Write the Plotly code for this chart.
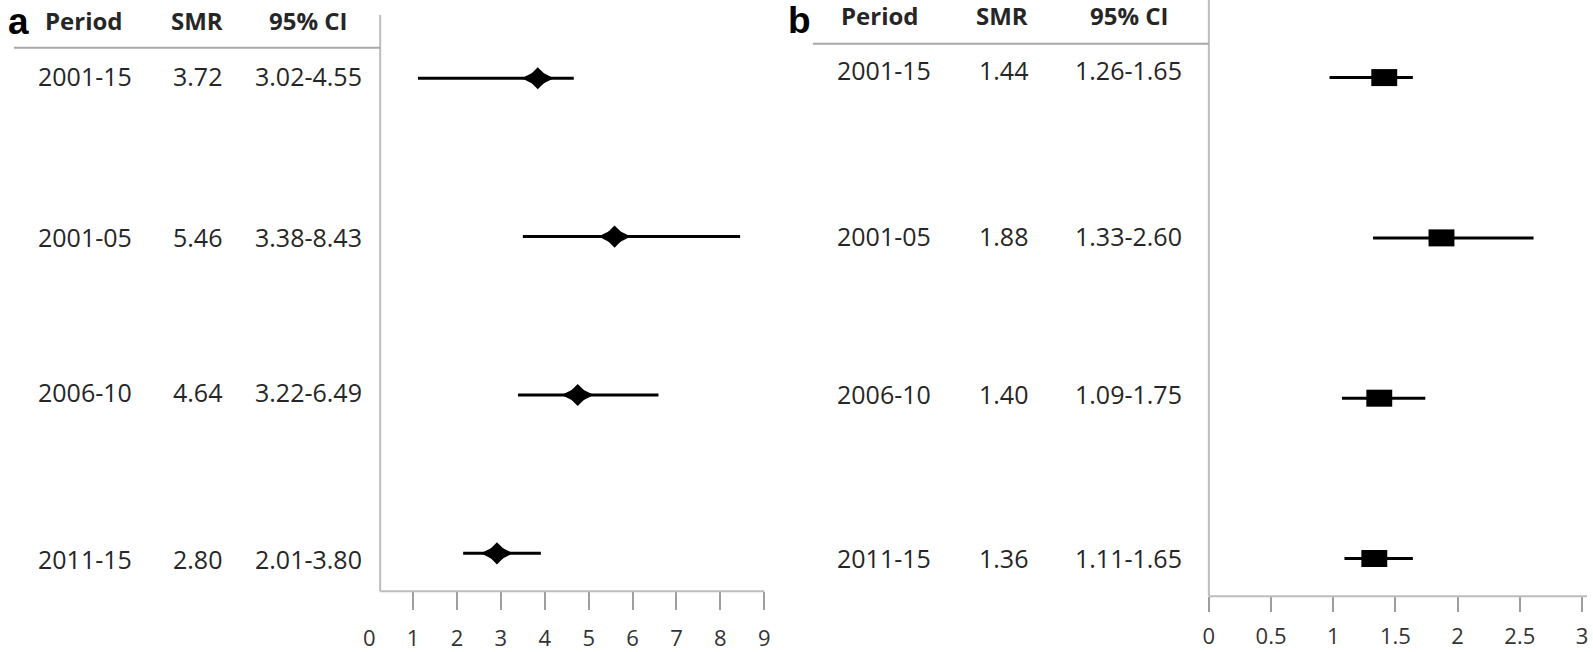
import plotly.graph_objects as go

# ---- data ----
periods = ["2001-15", "2001-05", "2006-10", "2011-15"]
rows = [4, 3, 2, 1]

smr_a_text = ["3.72", "5.46", "4.64", "2.80"]
ci_a_text = ["3.02-4.55", "3.38-8.43", "3.22-6.49", "2.01-3.80"]
smr_b_text = ["1.44", "1.88", "1.40", "1.36"]
ci_b_text = ["1.26-1.65", "1.33-2.60", "1.09-1.75", "1.11-1.65"]

# plotted positions as drawn in the picture
point_a = [3.84, 5.59, 4.75, 2.91]
low_a = [1.11, 3.50, 3.39, 2.14]
high_a = [4.66, 8.45, 6.59, 3.91]

point_b = [1.41, 1.87, 1.37, 1.33]
low_b = [0.97, 1.32, 1.07, 1.09]
high_b = [1.64, 2.61, 1.74, 1.64]

ticks_a = [0, 1, 2, 3, 4, 5, 6, 7, 8, 9]
ticks_b = [0, 0.5, 1, 1.5, 2, 2.5, 3]
tick_text_b = ["0", "0.5", "1", "1.5", "2", "2.5", "3"]

W, H = 1593, 652
px = lambda v: v / W
py = lambda v: 1 - v / H

TXT = "#262626"
FONT = "Open Sans"
AXC = "#bdbdbd"
TICKC = "#9e9e9e"

fig = go.Figure()

def ci_trace(point, low, high, xa, ya):
    return go.Scatter(
        x=point, y=rows, xaxis=xa, yaxis=ya, mode="markers",
        marker=dict(size=1, color="black", opacity=0),
        error_x=dict(type="data", symmetric=False,
                     array=[h - p for h, p in zip(high, point)],
                     arrayminus=[p - l for p, l in zip(point, low)],
                     width=0, thickness=3, color="black"),
        showlegend=False, hoverinfo="skip")

# panel a
fig.add_trace(ci_trace(point_a, low_a, high_a, "x", "y"))
fig.add_trace(go.Scatter(x=point_a, y=rows, xaxis="x", yaxis="y", mode="markers",
                         marker=dict(symbol="diamond-wide", size=23, color="black",
                                     line=dict(width=0)),
                         showlegend=False, hoverinfo="skip"))
fig.add_trace(go.Scatter(x=point_a, y=rows, xaxis="x", yaxis="y", mode="markers",
                         marker=dict(symbol="diamond", size=17, color="black",
                                     line=dict(width=0)),
                         showlegend=False, hoverinfo="skip"))
# panel b
fig.add_trace(ci_trace(point_b, low_b, high_b, "x2", "y2"))
fig.add_trace(go.Scatter(x=point_b, y=rows, xaxis="x2", yaxis="y2", mode="markers",
                         marker=dict(symbol="line-ew", size=18.5, color="black",
                                     line=dict(width=17, color="black")),
                         showlegend=False, hoverinfo="skip"))

axis_common = dict(showgrid=False, zeroline=False, showline=False, fixedrange=True)

fig.update_layout(
    width=W, height=H, margin=dict(l=0, r=0, t=0, b=0),
    paper_bgcolor="white", plot_bgcolor="white",
    font=dict(family=FONT, color=TXT),
    xaxis=dict(domain=[px(366), px(764)], range=[0, 9], anchor="y",
               tickmode="array", tickvals=ticks_a,
               ticks="outside", ticklen=18, tickcolor="rgba(0,0,0,0)",
               ticklabelstandoff=9,
               tickfont=dict(size=22, color="#333333", family=FONT),
               minor=dict(tickvals=ticks_a[1:], ticks="outside", ticklen=18,
                          tickwidth=2, tickcolor=TICKC),
               **axis_common),
    yaxis=dict(domain=[py(595), py(15)], range=[0.76, 4.40], anchor="x",
               showticklabels=False, ticks="", **axis_common),
    xaxis2=dict(domain=[px(1212), px(1588)], range=[0, 3], anchor="y2",
                tickmode="array", tickvals=ticks_b, ticktext=tick_text_b,
                ticks="outside", ticklen=15, tickwidth=2, tickcolor=TICKC,
                ticklabelstandoff=5,
                tickfont=dict(size=22, color="#333333", family=FONT),
                **axis_common),
    yaxis2=dict(domain=[py(600), 1], range=[0.764, 4.484], anchor="x2",
                showticklabels=False, ticks="", **axis_common),
)

shapes = []
def pline(x0, y0, x1, y1, color=AXC, w=2):
    shapes.append(dict(type="line", xref="paper", yref="paper",
                       x0=px(x0), y0=py(y0), x1=px(x1), y1=py(y1),
                       line=dict(color=color, width=w)))

# panel a axes + header line
pline(377, 15, 377, 595)
pline(377, 595, 764, 595)
pline(8, 48, 377, 48, color="#a8a8a8")
# panel b axes + header line
pline(1212, 0, 1212, 600)
pline(1212, 600, 1593, 600)
pline(813, 44, 1212, 44, color="#a8a8a8")
fig.update_layout(shapes=shapes)

ann = []
def text(x, y, s, size=24, bold=False, family=FONT, color=TXT):
    ann.append(dict(xref="paper", yref="paper", x=px(x), y=py(y), text=(f"<b>{s}</b>" if bold else s),
                    showarrow=False, xanchor="center", yanchor="middle",
                    font=dict(size=size, family=family, color=color)))

# panel letters
text(13, 22, "a", size=37, bold=True, family="Liberation Sans", color="black")
text(800, 21, "b", size=37, bold=True, family="Liberation Sans", color="black")

# headers
for cx, s in zip([79, 192, 305], ["Period", "SMR", "95% CI"]):
    text(cx, 21, s, size=24, bold=True)
for cx, s in zip([881, 1004, 1132], ["Period", "SMR", "95% CI"]):
    text(cx, 16, s, size=24, bold=True)

rows_a_y = [76, 238, 394, 562]
rows_b_y = [70, 237, 396, 561]
for i in range(4):
    text(80, rows_a_y[i], periods[i], size=25)
    text(193, rows_a_y[i], smr_a_text[i], size=25)
    text(305, rows_a_y[i], ci_a_text[i], size=25)
    text(885, rows_b_y[i], periods[i], size=25)
    text(1005, rows_b_y[i], smr_b_text[i], size=25)
    text(1131, rows_b_y[i], ci_b_text[i], size=25)

fig.update_layout(annotations=ann)

fig.write_html(
    "out.html",
    config={"displayModeBar": False},
    post_script="document.body.style.margin='0';document.body.style.overflow='hidden';",
)
